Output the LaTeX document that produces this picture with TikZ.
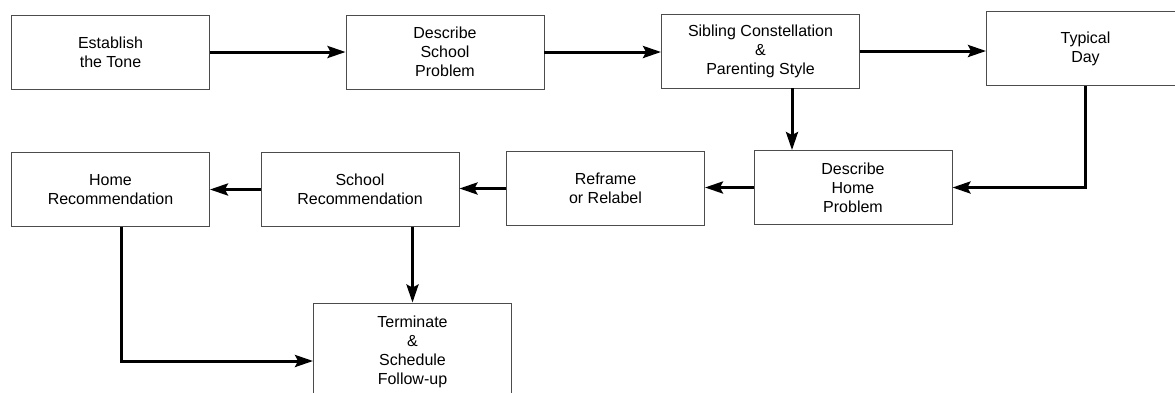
\documentclass[tikz,border=0pt]{standalone}
\usepackage{fontspec}
\setmainfont{Liberation Sans}
\usetikzlibrary{arrows.meta}
\begin{document}
\begin{tikzpicture}[x=1pt, y=-1pt,
  stage/.style={draw=black!70, line width=0.9pt, fill=white, align=center,
    inner sep=0pt, minimum width=198pt, minimum height=74pt,
    font=\fontsize{16}{19}\selectfont},
  flow/.style={line width=3pt, -{Stealth[length=18pt, width=12pt, inset=3pt]}}]
  % page frame
  \fill[white] (0,0) rectangle (1175,392);
  \clip (0,0) rectangle (1175,392);

  % top row
  \node[stage] (tone)   at (110.5,52)  {Establish\\the Tone};
  \node[stage] (school) at (445,52)    {Describe\\School\\Problem};
  \node[stage] (sib)    at (760.5,51)  {Sibling Constellation\\\&\\Parenting Style};
  \node[stage] (typ)    at (1085.5,48.5) {Typical\\Day};

  % second row
  \node[stage] (homep)  at (853,187.5) {Describe\\Home\\Problem};
  \node[stage] (refr)   at (605.5,188.5) {Reframe\\or Relabel};
  \node[stage] (schrec) at (360,189.5) {School\\Recommendation};
  \node[stage] (homrec) at (110.5,189.5) {Home\\Recommendation};

  % closing step
  \node[stage, minimum height=98pt] (term) at (412.5,352)
    {Terminate\\\&\\Schedule\\Follow-up};

  % connectors
  \draw[flow] (tone) -- (school);
  \draw[flow] (school.east) -- (sib.west |- school.east);
  \draw[flow] (sib.east) -- (typ.west |- sib.east);
  \draw[flow] ([xshift=31.5pt]sib.south) -- ([xshift=31.5pt]sib.south |- homep.north);
  \draw[flow] (typ.south) |- (homep.east);
  \draw[flow] (homep.west) -- (refr.east |- homep.west);
  \draw[flow] (refr.west) -- (schrec.east |- refr.west);
  \draw[flow] (schrec.west) -- (homrec.east |- schrec.west);
  \draw[flow] (term.north |- schrec.south) -- (term.north);
  \draw[flow] ([xshift=10.5pt]homrec.south) |- ([yshift=-9pt]term.west);
\end{tikzpicture}
\end{document}
